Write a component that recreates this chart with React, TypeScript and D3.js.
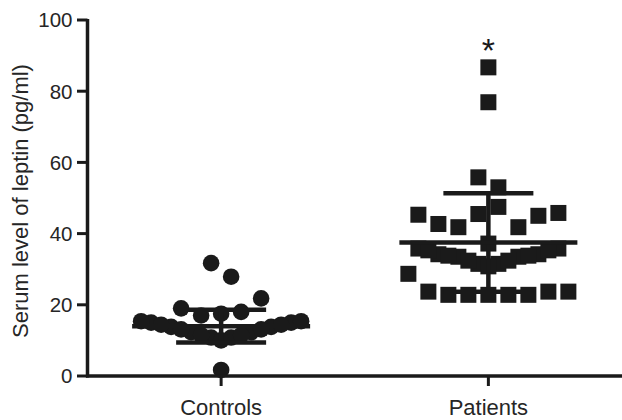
import React from 'react';
import * as d3 from 'd3';

// ---- data ----
const categories = ['Controls', 'Patients'];
const yTicks = [0, 20, 40, 60, 80, 100];

// Each inner array is one dot-plot row; values are laid side by side in listed order.
const controlsRows: number[][] = [
  [1.7],
  [10.8, 10.8, 12.3, 12.3, 13.8, 13.8, 15.0, 15.0],
  [10.0, 11.5, 11.5, 13.1, 13.1, 14.4, 14.4, 15.4, 15.4],
  [17.5, 18.0, 17.0, 21.8, 19.0],
  [27.9, 31.7],
];
const patientsRows: number[][] = [
  [22.8, 22.8, 22.8, 22.8, 22.8, 23.7, 23.7, 23.7, 28.7],
  [31.5, 31.5, 33.5, 33.5, 34.2, 34.2, 35.8, 35.8],
  [30.8, 32.4, 32.4, 33.8, 33.8, 35.3, 35.3],
  [37.2],
  [47.5, 45.5, 41.8, 41.8, 45.0, 42.7, 45.8, 45.3],
  [53.0, 55.8],
  [76.9],
  [86.7],
];
const groupMeans = [14.0, 37.5];
const groupSDs = [4.6, 13.8];
const significance = ['', '*'];

// ---- layout ----
const W = 622;
const H = 420;
const axisX = 87.5;
const axisY = 376;
const INK = '#1a1a1a';
const TEXT = '#262626';
const FONT = '"Liberation Sans", Arial, Helvetica, sans-serif';
const slotStep = 20;

function slotOffsets(n: number): number[] {
  const out: number[] = [];
  if (n % 2 === 1) {
    out.push(0);
    for (let k = 1; out.length < n; k++) {
      out.push(k);
      if (out.length < n) out.push(-k);
    }
  } else {
    for (let k = 0.5; out.length < n; k++) {
      out.push(k);
      if (out.length < n) out.push(-k);
    }
  }
  return out;
}

export default function App() {
  const y = d3.scaleLinear().domain([0, 100]).range([axisY, 20]);
  const x = d3.scalePoint<string>().domain(categories).range([axisX, W]).padding(0.5);

  const groups = [controlsRows, patientsRows];
  const points: { cat: number; cx: number; cy: number }[] = [];
  groups.forEach((rows, ci) => {
    const c = x(categories[ci]) as number;
    rows.forEach((row) => {
      const offs = slotOffsets(row.length);
      row.forEach((v, i) => {
        points.push({ cat: ci, cx: c + offs[i] * slotStep, cy: y(v) });
      });
    });
  });

  const r = 8.3;
  const sq = 16;
  const meanHalf = 89;
  const capHalf = 45;
  const barW = 4.5;

  return (
    <svg
      width={W}
      height={H}
      style={{ position: 'absolute', left: 0, top: 0, background: '#fff' }}
      fontFamily={FONT}
    >
      {/* points */}
      {points.map((p, i) =>
        p.cat === 0 ? (
          <circle key={i} cx={p.cx} cy={p.cy} r={r} fill={INK} />
        ) : (
          <rect key={i} x={p.cx - sq / 2} y={p.cy - sq / 2} width={sq} height={sq} fill={INK} />
        )
      )}

      {/* mean +/- SD */}
      {categories.map((c, i) => {
        const cx = x(c) as number;
        const m = groupMeans[i];
        const s = groupSDs[i];
        return (
          <g key={c} stroke={INK} strokeWidth={barW}>
            <line x1={cx} x2={cx} y1={y(m - s)} y2={y(m + s)} />
            <line x1={cx - meanHalf} x2={cx + meanHalf} y1={y(m)} y2={y(m)} />
            <line x1={cx - capHalf} x2={cx + capHalf} y1={y(m + s)} y2={y(m + s)} />
            <line x1={cx - capHalf} x2={cx + capHalf} y1={y(m - s)} y2={y(m - s)} />
          </g>
        );
      })}

      {/* significance marks */}
      {categories.map((c, i) =>
        significance[i] ? (
          <text
            key={'sig' + c}
            x={x(c) as number}
            y={62}
            textAnchor="middle"
            fontSize={34}
            fill={INK}
          >
            {significance[i]}
          </text>
        ) : null
      )}

      {/* y axis */}
      <line x1={axisX} x2={axisX} y1={y(100) - 1} y2={axisY + 1.5} stroke={INK} strokeWidth={3.5} />
      {yTicks.map((t) => (
        <g key={t}>
          <line x1={axisX - 10.5} x2={axisX} y1={y(t)} y2={y(t)} stroke={INK} strokeWidth={3} />
          <text x={axisX - 15} y={y(t)} dy="0.36em" textAnchor="end" fontSize={20.5} fill={TEXT}>
            {t}
          </text>
        </g>
      ))}

      {/* x axis */}
      <line x1={axisX - 1.5} x2={W} y1={axisY} y2={axisY} stroke={INK} strokeWidth={3.5} />
      {categories.map((c) => (
        <g key={'xt' + c}>
          <line x1={x(c) as number} x2={x(c) as number} y1={axisY} y2={axisY + 10} stroke={INK} strokeWidth={3} />
          <text x={x(c) as number} y={415} textAnchor="middle" fontSize={22} fill={TEXT}>
            {c}
          </text>
        </g>
      ))}

      {/* y label */}
      <text
        transform={`translate(28, ${(y(0) + y(100)) / 2 + 3}) rotate(-90)`}
        textAnchor="middle"
        fontSize={22}
        fill={TEXT}
      >
        Serum level of leptin (pg/ml)
      </text>
    </svg>
  );
}
